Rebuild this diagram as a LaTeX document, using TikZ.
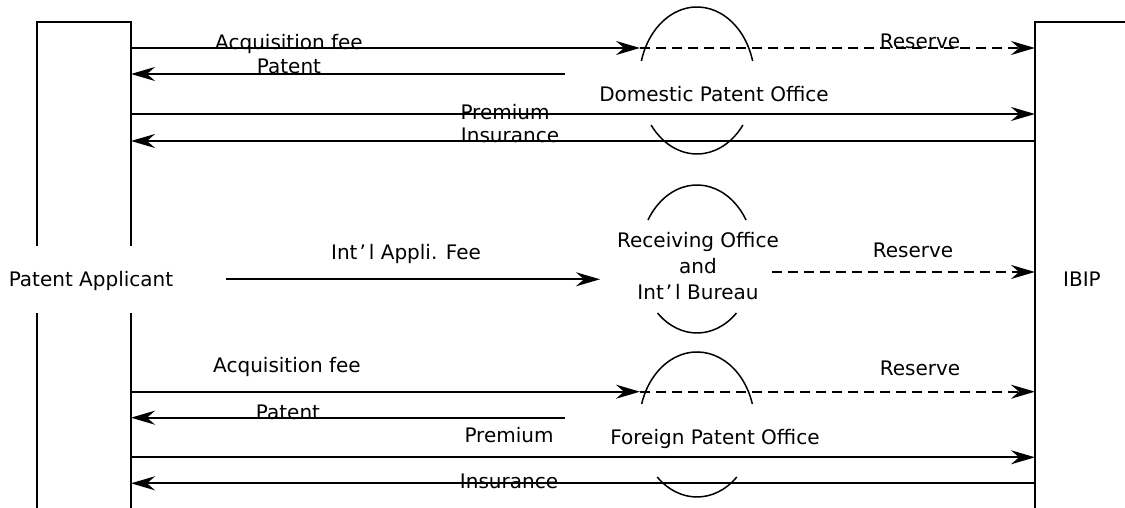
\documentclass[tikz,border=0pt]{standalone}
\usepackage{fontspec}
\setmainfont{DejaVu Sans}
\usepackage{tikz}
\usetikzlibrary{arrows.meta,calc,positioning}
\tikzstyle{flow} = [line width=2pt,-{Stealth[length=24pt,width=14pt,inset=8pt]}]
\tikzstyle{reserve} = [flow,dash pattern=on 10pt off 6pt]
\tikzstyle{wall} = [line width=2pt]
\tikzstyle{office} = [line width=1.5pt]
\tikzstyle{lbl} = [anchor=base,inner sep=0pt,font=\fontsize{20}{24}\selectfont]
\newcommand{\intl}{Int\hspace{2pt}’\hspace{3pt}l}

\begin{document}
\begin{tikzpicture}[x=1pt,y=1pt]
\useasboundingbox (0,0) rectangle (1125,508);
\draw[wall] (37,262) -- (37,486) -- (131,486) -- (131,262);
\draw[wall] (37,195) -- (37,0);
\draw[wall] (131,195) -- (131,0);
\draw[wall] (1125,486) -- (1035,486) -- (1035,0);
\node[lbl] (app) at (91,221) {Patent Applicant};
\node[lbl] (ibip) at (1082,221) {IBIP};

\draw[office] (697,427.5) ++(15.4:57.7 and 73.5) arc[start angle=15.4,end angle=164.6,x radius=57.7,y radius=73.5];
\draw[office] (697,427.5) ++(217.3:57.7 and 73.5) arc[start angle=217.3,end angle=322.7,x radius=57.7,y radius=73.5];
\draw[office] (697,249) ++(31.8:57.7 and 74) arc[start angle=31.8,end angle=148.2,x radius=57.7,y radius=74];
\draw[office] (697,249) ++(226.9:57.7 and 74) arc[start angle=226.9,end angle=313.1,x radius=57.7,y radius=74];
\draw[office] (697,83.5) ++(16.4:57.7 and 72.5) arc[start angle=16.4,end angle=163.6,x radius=57.7,y radius=72.5];
\draw[office] (697,83.5) ++(226.4:57.7 and 72.5) arc[start angle=226.4,end angle=313.6,x radius=57.7,y radius=72.5];

\coordinate (dA) at (131,460); \coordinate (dB) at (640,460); \coordinate (dC) at (1035,460);
\coordinate (dP) at (565,434); \coordinate (dQ) at (131,434);
\coordinate (dM) at (131,394); \coordinate (dN) at (1035,394);
\coordinate (dI) at (1035,367); \coordinate (dJ) at (131,367);
\draw[flow] (dA) -- (dB);
\draw[reserve] (dB) -- (dC);
\draw[flow] (dP) -- (dQ);
\draw[flow] (dM) -- (dN);
\draw[flow] (dI) -- (dJ);
\node[lbl] (dacq) at (289,458) {Acquisition fee};
\node[lbl] (dpat) at (289,434.5) {Patent};
\node[lbl] (dres) at (920,459) {Reserve};
\node[lbl] (dom) at (714,406) {Domestic Patent Office};
\node[lbl] (dprem) at (505,388) {Premium};
\node[lbl] (dins) at (510,365.3) {Insurance};

\coordinate (iA) at (226,228.7); \coordinate (iB) at (600,228.7);
\coordinate (iC) at (772,236); \coordinate (iD) at (1035,236);
\draw[flow] (iA) -- (iB);
\draw[reserve] (iC) -- (iD);
\node[lbl] (ifee) at (406,248.7) {\intl\ Appli. Fee};
\node[lbl] (ro1) at (698,260) {Receiving Office};
\node[lbl] (ro2) at (698,234) {and};
\node[lbl] (ro3) at (698,208) {\intl\ Bureau};
\node[lbl] (ires) at (913,250) {Reserve};

\coordinate (fA) at (131,116.3); \coordinate (fB) at (640,116.3); \coordinate (fC) at (1035,116.3);
\coordinate (fP) at (565,90.3); \coordinate (fQ) at (131,90.3);
\coordinate (fM) at (131,50.7); \coordinate (fN) at (1035,50.7);
\coordinate (fI) at (1035,24.7); \coordinate (fJ) at (131,24.7);
\draw[flow] (fA) -- (fB);
\draw[reserve] (fB) -- (fC);
\draw[flow] (fP) -- (fQ);
\draw[flow] (fM) -- (fN);
\draw[flow] (fI) -- (fJ);
\node[lbl] (facq) at (287,135) {Acquisition fee};
\node[lbl] (fres) at (920,132) {Reserve};
\node[lbl] (fpat) at (288,88) {Patent};
\node[lbl] (fprem) at (509,65.3) {Premium};
\node[lbl] (for) at (715,63) {Foreign Patent Office};
\node[lbl] (fins) at (509,19) {Insurance};
\end{tikzpicture}
\end{document}
